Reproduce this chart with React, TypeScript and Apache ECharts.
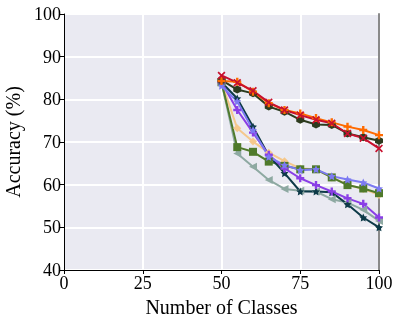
import React, { useEffect, useRef } from "react";
import * as echarts from "echarts";

const classes = [50, 55, 60, 65, 70, 75, 80, 85, 90, 95, 100];
const yTicks = [40, 50, 60, 70, 80, 90, 100];
const xTicks = [0, 25, 50, 75, 100];

const tanVals = [84, 73.2, 70.1, 67.5, 65.5, 63.8, 63.6, 61.7, 60.0, 59.0, 57.6];
const grayVals = [84, 67.3, 64.2, 61.1, 59.0, 58.6, 58.4, 56.6, 55.8, 54.1, 51.5];
const oliveVals = [84, 68.8, 67.7, 65.4, 64.4, 63.6, 63.6, 61.7, 59.9, 59.1, 58.0];
const tealVals = [84, 80.2, 73.6, 66.8, 62.7, 58.4, 58.4, 58.2, 55.4, 52.3, 50.0];
const purpleVals = [84, 77.5, 72.2, 67.0, 63.8, 61.5, 59.9, 58.4, 56.8, 55.5, 52.3];
const blueVals = [83.2, 79.5, 72.8, 66.5, 64.6, 63.4, 63.6, 62.0, 61.2, 60.5, 59.1];
const darkOliveVals = [84.5, 82.3, 81.4, 78.3, 77.1, 75.2, 74.1, 74.0, 72.0, 71.1, 70.3];
const orangeVals = [84.3, 84.1, 81.8, 79.1, 77.5, 76.7, 75.6, 74.6, 73.6, 72.8, 71.6];
const redVals = [85.6, 83.9, 82.0, 79.3, 77.5, 76.3, 75.2, 74.4, 72.0, 70.9, 68.5];

const STAR = "path://M0,-10L2.9,-4L9.5,-3.1L4.7,1.5L5.9,8.1L0,5L-5.9,8.1L-4.7,1.5L-9.5,-3.1L-2.9,-4Z";
const PLUS = "path://M-3,-10L3,-10L3,-3L10,-3L10,3L3,3L3,10L-3,10L-3,3L-10,3L-10,-3L-3,-3Z";
const XMARK = "path://M-7,-10L0,-3L7,-10L10,-7L3,0L10,7L7,10L0,3L-7,10L-10,7L-3,0L-10,-7Z";
const TRI_LEFT = "path://M-10,0L8,-9L8,9Z";
const HEX = "path://M0,-10L8.7,-5L8.7,5L0,10L-8.7,5L-8.7,-5Z";

const seriesDefs = [
  { name: "tan", color: "#f5c88c", symbol: "diamond", vals: tanVals },
  { name: "gray", color: "#8ea9a2", symbol: TRI_LEFT, vals: grayVals },
  { name: "olive", color: "#4f7a2b", symbol: "rect", vals: oliveVals },
  { name: "teal", color: "#0d3a48", symbol: STAR, vals: tealVals },
  { name: "purple", color: "#8a3fe6", symbol: PLUS, vals: purpleVals },
  { name: "blue", color: "#7c7af2", symbol: STAR, vals: blueVals },
  { name: "darkolive", color: "#2c3b1e", symbol: HEX, vals: darkOliveVals },
  { name: "orange", color: "#ff6a00", symbol: PLUS, vals: orangeVals },
  { name: "red", color: "#c8102e", symbol: XMARK, vals: redVals },
];

export default function App() {
  const ref = useRef<HTMLDivElement>(null);
  useEffect(() => {
    if (!ref.current) return;
    const chart = echarts.init(ref.current, undefined, { renderer: "svg" });
    const font = "Liberation Serif";
    chart.setOption({
      animation: false,
      textStyle: { fontFamily: font },
      grid: {
        left: 64,
        right: 20,
        top: 14,
        bottom: 54,
        show: true,
        backgroundColor: "#eaeaf2",
        borderWidth: 0,
        containLabel: false,
        outerBoundsMode: "none",
      },
      xAxis: {
        type: "value",
        min: 0,
        max: 100,
        interval: 25,
        name: "Number of Classes",
        nameLocation: "middle",
        nameGap: 22,
        nameTextStyle: { fontFamily: font, fontSize: 20, color: "#000" },
        axisLine: { show: true, lineStyle: { color: "#000", width: 1 } },
        axisTick: { show: true, length: 4, lineStyle: { color: "#000" } },
        axisLabel: {
          fontFamily: font,
          fontSize: 18,
          color: "#000",
          margin: 4,
          formatter: (v: number) => (xTicks.includes(v) ? String(v) : ""),
        },
        splitLine: { show: true, lineStyle: { color: "#ffffff", width: 2 } },
      },
      yAxis: [
        {
          type: "value",
          min: 40,
          max: 100,
          interval: 10,
          name: "Accuracy (%)",
          nameLocation: "middle",
          nameGap: 31,
          nameTextStyle: { fontFamily: font, fontSize: 20, color: "#000" },
          axisLine: { show: true, lineStyle: { color: "#000", width: 1 } },
          axisTick: { show: true, length: 4, lineStyle: { color: "#000" } },
          axisLabel: {
            fontFamily: font,
            fontSize: 18,
            color: "#000",
            margin: 3,
            formatter: (v: number) => (yTicks.includes(v) ? String(v) : ""),
          },
          splitLine: { show: true, lineStyle: { color: "#ffffff", width: 2 } },
        },
        {
          type: "value",
          min: 40,
          max: 100,
          interval: 10,
          position: "right",
          axisLine: { show: true, lineStyle: { color: "#8a8a8a", width: 2 } },
          axisTick: { show: false },
          axisLabel: { show: false },
          splitLine: { show: false },
        },
      ],
      series: seriesDefs.map((s) => ({
        name: s.name,
        type: "line",
        yAxisIndex: 0,
        data: classes.map((c, i) => [c, s.vals[i]]),
        symbol: s.symbol,
        symbolSize: 8,
        showAllSymbol: true,
        lineStyle: { color: s.color, width: 2 },
        itemStyle: { color: s.color, borderWidth: 0 },
        z: 3,
      })),
    });
    return () => chart.dispose();
  }, []);
  return (
    <div
      ref={ref}
      style={{ position: "fixed", left: 0, top: 0, width: 399, height: 324 }}
    />
  );
}
